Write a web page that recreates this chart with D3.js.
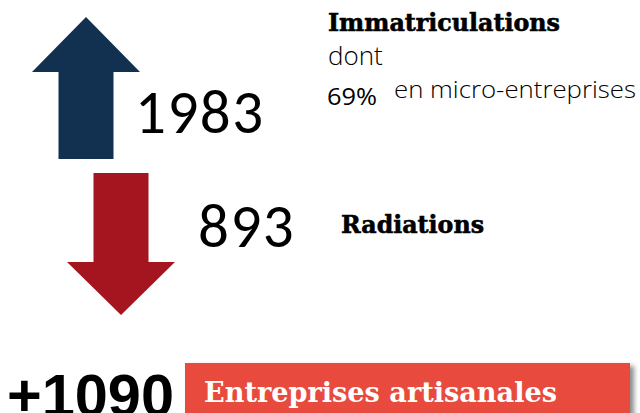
<!DOCTYPE html>
<html>
<head>
<meta charset="utf-8">
<script src="https://cdn.jsdelivr.net/npm/d3@7"></script>
<style>
  body { margin: 0; background: #fff; }
  svg { display: block; }
</style>
</head>
<body>
<div id="chart"></div>
<script>
// flows of the year
var flowLabels = ["Immatriculations", "Radiations"];
var flowValues = [1983, 893];
var microShare = 69;
var microLabel = "en micro-entreprises";
var netLabel = "Entreprises artisanales";

var width = 640, height = 413;

var colors = { up: "#12304f", down: "#a5151f", band: "#e84c3e" };
var slab = "'DejaVu Serif', serif";
var light = "'Open Sans', 'Noto Sans', sans-serif";
var num = "Carlito, Lato, 'Open Sans', sans-serif";

var svg = d3.select("#chart")
  .append("svg")
    .attr("width", width)
    .attr("height", height);

var defs = svg.append("defs");
var shadow = defs.append("filter").attr("id", "shadow")
  .attr("x", "-5%").attr("y", "-50%").attr("width", "115%").attr("height", "200%");
shadow.append("feDropShadow")
  .attr("dx", 4).attr("dy", 3).attr("stdDeviation", 2.5)
  .attr("flood-color", "#000").attr("flood-opacity", 0.45);

// rows for the two arrows
var row = d3.scalePoint()
  .domain(flowLabels)
  .range([17, 173]);

// arrow shape: head 108 wide, shaft 55 wide, 142 long
function arrowPath(dir) {
  var hw = 54, sw = 27.5, hl = 55, len = 142;
  var p = d3.path();
  if (dir > 0) {
    p.moveTo(0, 0);
    p.lineTo(hw, hl); p.lineTo(sw, hl); p.lineTo(sw, len);
    p.lineTo(-sw, len); p.lineTo(-sw, hl); p.lineTo(-hw, hl);
  } else {
    p.moveTo(-sw, 0); p.lineTo(sw, 0); p.lineTo(sw, len - 53);
    p.lineTo(hw, len - 53); p.lineTo(0, len); p.lineTo(-hw, len - 53);
    p.lineTo(-sw, len - 53);
  }
  p.closePath();
  return p.toString();
}

var arrowX = d3.scaleOrdinal().domain(flowLabels).range([86, 121]);
var numX = d3.scaleOrdinal().domain(flowLabels).range([135, 198]);
var numY = d3.scaleOrdinal().domain(flowLabels).range([116, 74]);

var flows = svg.append("g").selectAll("g.flow")
  .data(flowLabels.map(function(l, i) { return { label: l, value: flowValues[i], dir: i === 0 ? 1 : -1 }; }))
  .enter().append("g")
    .attr("class", "flow")
    .attr("transform", function(d) { return "translate(0," + row(d.label) + ")"; });

flows.append("path")
  .attr("transform", function(d) { return "translate(" + arrowX(d.label) + ",0)"; })
  .attr("d", function(d) { return arrowPath(d.dir); })
  .attr("fill", function(d) { return d.dir > 0 ? colors.up : colors.down; });

flows.append("text")
  .attr("x", function(d) { return numX(d.label); })
  .attr("y", function(d) { return numY(d.label); })
  .attr("font-family", num)
  .attr("font-size", 61)
  .attr("letter-spacing", 1.5)
  .attr("fill", "#000")
  .text(function(d) { return d.value; });

// labels on the right
var labels = svg.append("g");
labels.append("text")
  .attr("x", 328).attr("y", 31)
  .attr("font-family", slab).attr("font-weight", "bold").attr("font-size", 24)
  .attr("stroke", "#000").attr("stroke-width", 0.6)
  .attr("textLength", 232).attr("lengthAdjust", "spacingAndGlyphs")
  .text(flowLabels[0]);

labels.append("text")
  .attr("x", 328).attr("y", 65)
  .attr("font-family", light).attr("font-weight", 300).attr("font-size", 26)
  .text("dont");

labels.append("text")
  .attr("x", 327).attr("y", 105)
  .attr("font-family", light).attr("font-size", 23)
  .attr("textLength", 50).attr("lengthAdjust", "spacingAndGlyphs")
  .text(microShare + "%");

labels.append("text")
  .attr("x", 394).attr("y", 98)
  .attr("font-family", light).attr("font-weight", 300).attr("font-size", 24)
  .attr("textLength", 242).attr("lengthAdjust", "spacingAndGlyphs")
  .text(microLabel);

labels.append("text")
  .attr("x", 341).attr("y", 233)
  .attr("font-family", slab).attr("font-weight", "bold").attr("font-size", 25)
  .attr("stroke", "#000").attr("stroke-width", 0.6)
  .attr("textLength", 143).attr("lengthAdjust", "spacingAndGlyphs")
  .text(flowLabels[1]);

// net balance band
var net = flowValues[0] - flowValues[1];

svg.append("rect")
  .attr("x", 185).attr("y", 363)
  .attr("width", 445).attr("height", 60)
  .attr("fill", colors.band)
  .attr("filter", "url(#shadow)");

svg.append("text")
  .attr("x", 204).attr("y", 402)
  .attr("font-family", slab).attr("font-weight", "bold").attr("font-size", 28)
  .attr("fill", "#fff")
  .attr("textLength", 353).attr("lengthAdjust", "spacingAndGlyphs")
  .text(netLabel);

svg.append("text")
  .attr("x", 7).attr("y", 416)
  .attr("font-family", "'Liberation Sans', Arial, sans-serif")
  .attr("font-weight", "bold").attr("font-size", 60)
  .attr("textLength", 167).attr("lengthAdjust", "spacingAndGlyphs")
  .text(d3.format("+")(net));
</script>
</body>
</html>
